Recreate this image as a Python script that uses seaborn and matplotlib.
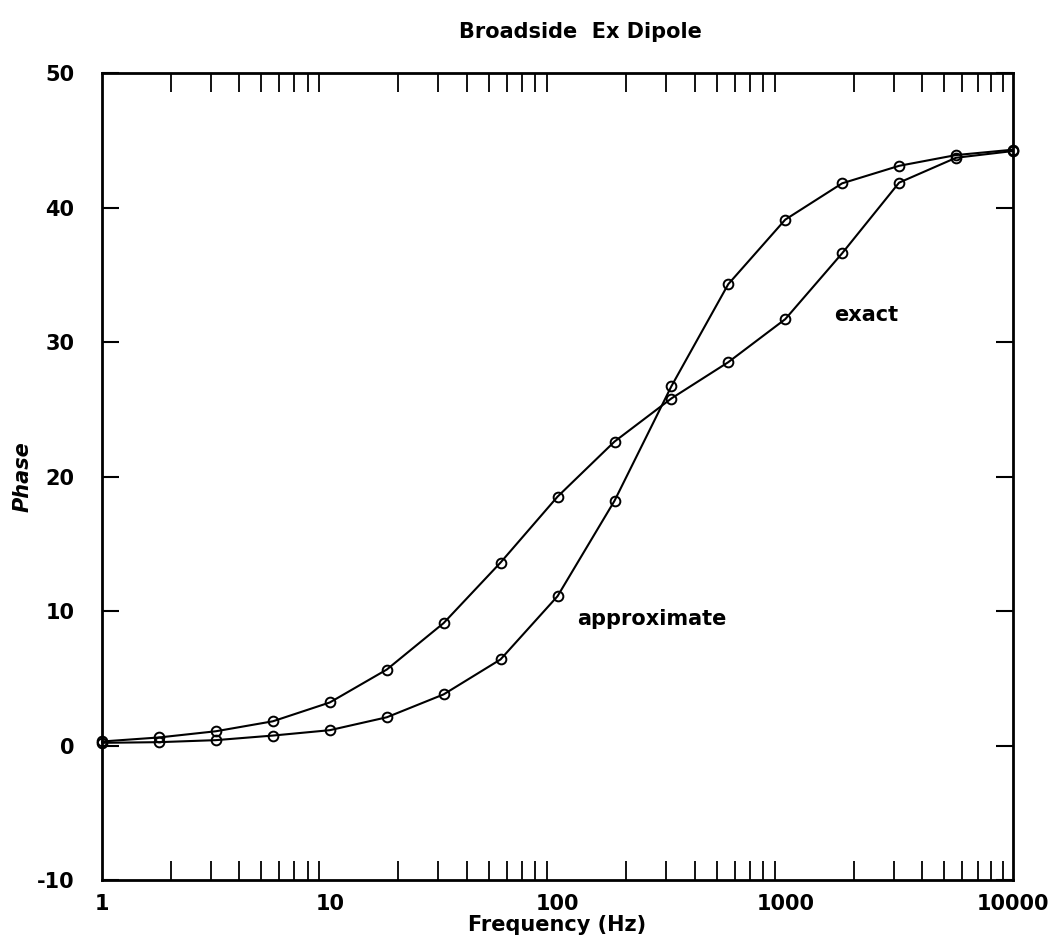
import numpy as np
import pandas as pd
import matplotlib
matplotlib.use("Agg")
import matplotlib.pyplot as plt
import matplotlib.ticker as mticker
import seaborn as sns

# Data
frequency = [1, 1.78, 3.16, 5.62, 10, 17.8, 31.6, 56.2, 100, 178, 316, 562,
             1000, 1778, 3162, 5623, 10000]
exact = [0.3, 0.6, 1.06, 1.8, 3.2, 5.65, 9.1, 13.6, 18.5, 22.6, 25.8, 28.5,
         31.7, 36.6, 41.85, 43.7, 44.2]
approximate = [0.2, 0.25, 0.4, 0.74, 1.14, 2.1, 3.8, 6.4, 11.1, 18.2, 26.7,
               34.3, 39.1, 41.8, 43.1, 43.9, 44.3]
x_ticks = [1, 10, 100, 1000, 10000]
x_ticklabels = ["1", "10", "100", "1000", "10000"]
y_ticks = [-10, 0, 10, 20, 30, 40, 50]

sns.set_style("ticks")
plt.rcParams["font.family"] = ["DejaVu Sans"]
plt.rcParams["axes.unicode_minus"] = False
plt.rcParams["text.color"] = "black"
plt.rcParams["axes.labelcolor"] = "black"
plt.rcParams["xtick.color"] = "black"
plt.rcParams["ytick.color"] = "black"

df = pd.DataFrame({
    "Frequency": frequency * 2,
    "Phase": exact + approximate,
    "series": ["exact"] * len(frequency) + ["approximate"] * len(frequency),
})

fig = plt.figure(figsize=(10.53, 9.41), dpi=100)
ax = fig.add_axes([0.0969, 0.0648, 0.8651, 0.8576])

for name in ["exact", "approximate"]:
    sns.lineplot(data=df[df["series"] == name], x="Frequency", y="Phase",
                 ax=ax, color="black", lw=1.5, marker="o", markersize=7,
                 markerfacecolor="none", markeredgecolor="black",
                 markeredgewidth=1.4, sort=False, estimator=None,
                 clip_on=False, zorder=3)

ax.set_xscale("log")
ax.set_xlim(1, 10000)
ax.set_ylim(-10, 50)
ax.set_xticks(x_ticks)
ax.set_xticklabels(x_ticklabels)
ax.xaxis.set_minor_locator(mticker.LogLocator(base=10, subs=np.arange(2, 10)))
ax.xaxis.set_minor_formatter(mticker.NullFormatter())
ax.set_yticks(y_ticks)

ax.tick_params(axis="x", which="major", direction="in", length=0,
               top=True, bottom=True, pad=10, labelsize=15, width=1.5,
               colors="black")
ax.tick_params(axis="x", which="minor", direction="in", length=14,
               top=True, bottom=True, width=1.3, colors="black")
ax.tick_params(axis="y", which="major", direction="in", length=12,
               left=True, right=True, pad=20, labelsize=15, width=1.5,
               colors="black")
ax.tick_params(axis="y", which="minor", length=0)
for lbl in ax.get_xticklabels() + ax.get_yticklabels():
    lbl.set_fontweight("bold")

for sp in ax.spines.values():
    sp.set_linewidth(2)
    sp.set_color("black")
    sp.set_visible(True)

ax.set_xlabel("Frequency (Hz)", fontsize=15, fontweight="bold", labelpad=1,
              color="black")
ax.set_ylabel("Phase", fontsize=15, fontweight="bold", style="italic",
              color="black")
ax.yaxis.set_label_coords(-0.076, 0.5)
if ax.get_legend() is not None:
    ax.get_legend().remove()

ax.text(1640, 32.0, "exact", fontsize=15, fontweight="bold",
        va="center", ha="left", color="black")
ax.text(122, 9.4, "approximate", fontsize=15, fontweight="bold",
        va="center", ha="left", color="black")

fig.text(580 / 1053, 1 - 32 / 941, "Broadside  Ex Dipole", fontsize=15,
         fontweight="bold", ha="center", va="center", color="black")

fig.savefig("out.png", dpi=100, facecolor="white")
